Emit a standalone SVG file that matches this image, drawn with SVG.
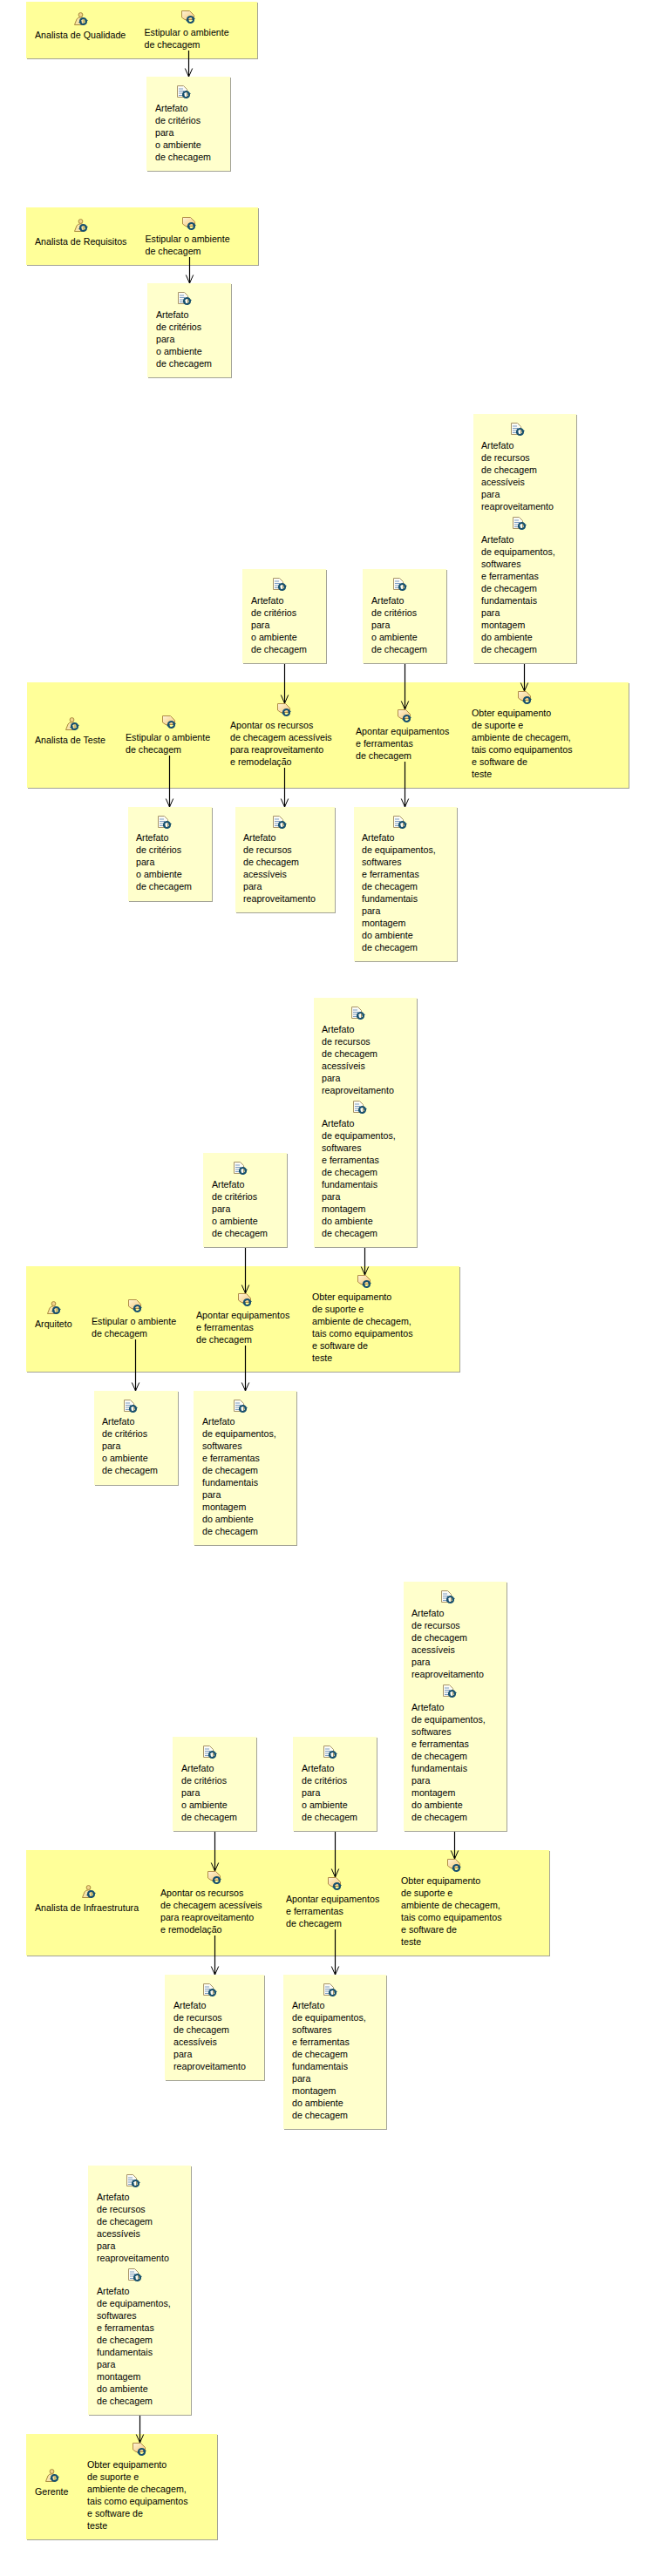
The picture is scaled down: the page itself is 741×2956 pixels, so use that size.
<svg xmlns="http://www.w3.org/2000/svg" width="741" height="2956" viewBox="0 0 741 2956">
<style>
text{font-family:"Liberation Sans",Arial,sans-serif;font-size:10.67px;fill:#000}
.pa{fill:#ffff99}.ar{fill:#ffffcc}.sh{fill:#a3a396}
.c{fill:none;stroke:#000;stroke-width:1.2;marker-end:url(#v)}
</style>
<defs>
<linearGradient id="tg" x1="0" y1="0" x2="1" y2="1"><stop offset="0" stop-color="#fff4d8"/><stop offset="1" stop-color="#f5c878"/></linearGradient>
<marker id="v" markerUnits="userSpaceOnUse" markerWidth="12" markerHeight="12" refX="10" refY="5" orient="auto" viewBox="0 0 12 10"><path d="M0.500 0.800L10 5L0.500 9.200" fill="none" stroke="#000" stroke-width="1"/></marker>
<g id="sync"><path d="M-3.500 0.500A3.600 3.600 0 0 1 3 -2M3.500 -0.500A3.600 3.600 0 0 1 -3 2" fill="none" stroke="#17506e" stroke-width="2"/><path d="M1.500 -4L5.500 -1L2 0.500ZM-1.500 4L-5.500 1L-2 -0.500Z" fill="#17506e"/></g>
<symbol id="ic-actor" width="17" height="16" viewBox="0 0 17 16"><circle cx="7.500" cy="3" r="2.400" fill="#f3d48c" stroke="#a98a3c"/><path d="M0.500 14.500L3 8Q4 5.800 7.500 5.800Q11 5.800 11 8V14.500Z" fill="#f8e4a8" stroke="#a98a3c"/><use href="#sync" x="10.500" y="10.500"/></symbol>
<symbol id="ic-task" width="17" height="16" viewBox="0 0 17 16"><path d="M0.500 0.500H9.500L14.500 5.500V10.500H4L0.500 8Z" fill="url(#tg)" stroke="#b08c48"/><use href="#sync" x="10.500" y="10.500"/></symbol>
<symbol id="ic-doc" width="17" height="16" viewBox="0 0 17 16"><path d="M0.500 0.500H7.500L11.500 4.500V13.500H0.500Z" fill="#fbfbf4" stroke="#a89468"/><path d="M2 4H7M2 6.500H8M2 9H6M2 11.500H5" stroke="#7d9cc4" fill="none"/><use href="#sync" x="10.500" y="10.500"/></symbol>
<g id="b96-108"><rect class="sh" x="1" y="1" width="96" height="108"/><rect class="ar" width="96" height="108"/></g>
<g id="b118-286"><rect class="sh" x="1" y="1" width="118" height="286"/><rect class="ar" width="118" height="286"/></g>
<g id="b118-177"><rect class="sh" x="1" y="1" width="118" height="177"/><rect class="ar" width="118" height="177"/></g>
<g id="b114-121"><rect class="sh" x="1" y="1" width="114" height="121"/><rect class="ar" width="114" height="121"/></g>
<text id="tcrit">Artefato<tspan x="0" dy="14">de critérios</tspan><tspan x="0" dy="14">para</tspan><tspan x="0" dy="14">o ambiente</tspan><tspan x="0" dy="14">de checagem</tspan></text>
<text id="trec">Artefato<tspan x="0" dy="14">de recursos</tspan><tspan x="0" dy="14">de checagem</tspan><tspan x="0" dy="14">acessíveis</tspan><tspan x="0" dy="14">para</tspan><tspan x="0" dy="14">reaproveitamento</tspan></text>
<text id="teq">Artefato<tspan x="0" dy="14">de equipamentos,</tspan><tspan x="0" dy="14">softwares</tspan><tspan x="0" dy="14">e ferramentas</tspan><tspan x="0" dy="14">de checagem</tspan><tspan x="0" dy="14">fundamentais</tspan><tspan x="0" dy="14">para</tspan><tspan x="0" dy="14">montagem</tspan><tspan x="0" dy="14">do ambiente</tspan><tspan x="0" dy="14">de checagem</tspan></text>
<text id="test">Estipular o ambiente<tspan x="0" dy="14">de checagem</tspan></text>
<text id="tare">Apontar os recursos<tspan x="0" dy="14">de checagem acessíveis</tspan><tspan x="0" dy="14">para reaproveitamento</tspan><tspan x="0" dy="14">e remodelação</tspan></text>
<text id="tapo">Apontar equipamentos<tspan x="0" dy="14">e ferramentas</tspan><tspan x="0" dy="14">de checagem</tspan></text>
<text id="tobt">Obter equipamento<tspan x="0" dy="14">de suporte e</tspan><tspan x="0" dy="14">ambiente de checagem,</tspan><tspan x="0" dy="14">tais como equipamentos</tspan><tspan x="0" dy="14">e software de</tspan><tspan x="0" dy="14">teste</tspan></text>
</defs>
<rect width="741" height="2956" fill="#fff"/>

<g id="lane-qualidade"><rect class="sh" x="31" y="3" width="265" height="65"/><rect class="pa" x="30" y="2" width="265" height="65"/></g>
<g id="role-qualidade"><use href="#ic-actor" x="85" y="14"/><text x="40" y="44">Analista de Qualidade</text></g>
<g id="task-q1"><use href="#ic-task" x="208" y="12"/><use href="#test" x="165.500" y="41"/></g>
<g id="art-q1"><use href="#b96-108" x="168" y="88"/><use href="#ic-doc" x="203" y="98"/><use href="#tcrit" x="178" y="128"/></g>

<g id="lane-requisitos"><rect class="sh" x="31" y="239" width="266" height="66"/><rect class="pa" x="30" y="238" width="266" height="66"/></g>
<g id="role-requisitos"><use href="#ic-actor" x="85" y="251"/><text x="40" y="281">Analista de Requisitos</text></g>
<g id="task-r1"><use href="#ic-task" x="209" y="249"/><use href="#test" x="166.500" y="278"/></g>
<g id="art-r1"><use href="#b96-108" x="169" y="325"/><use href="#ic-doc" x="204" y="335"/><use href="#tcrit" x="179" y="365"/></g>

<g id="art-t1"><use href="#b96-108" x="278" y="653"/><use href="#ic-doc" x="313" y="663"/><use href="#tcrit" x="288" y="693"/></g>
<g id="art-t2"><use href="#b96-108" x="416" y="653"/><use href="#ic-doc" x="451" y="663"/><use href="#tcrit" x="426" y="693"/></g>
<g id="art-t3"><use href="#b118-286" x="543" y="475"/><use href="#ic-doc" x="586" y="485"/><use href="#trec" x="552" y="515"/><use href="#ic-doc" x="588" y="593"/><use href="#teq" x="552" y="623"/></g>
<g id="lane-teste"><rect class="sh" x="32" y="784" width="690" height="121"/><rect class="pa" x="31" y="783" width="690" height="121"/></g>
<g id="role-teste"><use href="#ic-actor" x="75" y="823"/><text x="40" y="853">Analista de Teste</text></g>
<g id="task-t1"><use href="#ic-task" x="186" y="821"/><use href="#test" x="144" y="850"/></g>
<g id="task-t2"><use href="#ic-task" x="318" y="807"/><use href="#tare" x="264" y="836"/></g>
<g id="task-t3"><use href="#ic-task" x="456" y="814"/><use href="#tapo" x="408" y="843"/></g>
<g id="task-t4"><use href="#ic-task" x="594" y="793"/><use href="#tobt" x="541" y="822"/></g>
<g id="art-t4"><use href="#b96-108" x="147" y="926"/><use href="#ic-doc" x="181" y="936"/><use href="#tcrit" x="156" y="965"/></g>
<g id="art-t5"><use href="#b114-121" x="270" y="926"/><use href="#ic-doc" x="313" y="936"/><use href="#trec" x="279" y="965"/></g>
<g id="art-t6"><use href="#b118-177" x="406" y="926"/><use href="#ic-doc" x="451" y="936"/><use href="#teq" x="415" y="965"/></g>

<g id="art-a1"><use href="#b96-108" x="233" y="1323"/><use href="#ic-doc" x="268" y="1333"/><use href="#tcrit" x="243" y="1363"/></g>
<g id="art-a2"><use href="#b118-286" x="360" y="1145"/><use href="#ic-doc" x="403" y="1155"/><use href="#trec" x="369" y="1185"/><use href="#ic-doc" x="405" y="1263"/><use href="#teq" x="369" y="1293"/></g>
<g id="lane-arquiteto"><rect class="sh" x="31" y="1454" width="497" height="121"/><rect class="pa" x="30" y="1453" width="497" height="121"/></g>
<g id="role-arquiteto"><use href="#ic-actor" x="54" y="1493"/><text x="40" y="1523">Arquiteto</text></g>
<g id="task-a1"><use href="#ic-task" x="147" y="1491"/><use href="#test" x="105" y="1520"/></g>
<g id="task-a2"><use href="#ic-task" x="273" y="1484"/><use href="#tapo" x="225" y="1513"/></g>
<g id="task-a3"><use href="#ic-task" x="410" y="1463"/><use href="#tobt" x="358" y="1492"/></g>
<g id="art-a3"><use href="#b96-108" x="108" y="1596"/><use href="#ic-doc" x="142" y="1606"/><use href="#tcrit" x="117" y="1635"/></g>
<g id="art-a4"><use href="#b118-177" x="222" y="1596"/><use href="#ic-doc" x="268" y="1606"/><use href="#teq" x="232" y="1635"/></g>

<g id="art-i1"><use href="#b96-108" x="198" y="1993"/><use href="#ic-doc" x="233" y="2003"/><use href="#tcrit" x="208" y="2033"/></g>
<g id="art-i2"><use href="#b96-108" x="336" y="1993"/><use href="#ic-doc" x="371" y="2003"/><use href="#tcrit" x="346" y="2033"/></g>
<g id="art-i3"><use href="#b118-286" x="463" y="1815"/><use href="#ic-doc" x="506" y="1825"/><use href="#trec" x="472" y="1855"/><use href="#ic-doc" x="508" y="1933"/><use href="#teq" x="472" y="1963"/></g>
<g id="lane-infra"><rect class="sh" x="31" y="2124" width="600" height="121"/><rect class="pa" x="30" y="2123" width="600" height="121"/></g>
<g id="role-infra"><use href="#ic-actor" x="94" y="2163"/><text x="40" y="2193">Analista de Infraestrutura</text></g>
<g id="task-i1"><use href="#ic-task" x="238" y="2147"/><use href="#tare" x="184" y="2176"/></g>
<g id="task-i2"><use href="#ic-task" x="376" y="2154"/><use href="#tapo" x="328" y="2183"/></g>
<g id="task-i3"><use href="#ic-task" x="513" y="2133"/><use href="#tobt" x="460" y="2162"/></g>
<g id="art-i4"><use href="#b114-121" x="189" y="2266"/><use href="#ic-doc" x="233" y="2276"/><use href="#trec" x="199" y="2305"/></g>
<g id="art-i5"><use href="#b118-177" x="325" y="2266"/><use href="#ic-doc" x="371" y="2276"/><use href="#teq" x="335" y="2305"/></g>

<g id="art-g1"><use href="#b118-286" x="101" y="2485"/><use href="#ic-doc" x="145" y="2495"/><use href="#trec" x="111" y="2525"/><use href="#ic-doc" x="147" y="2603"/><use href="#teq" x="111" y="2633"/></g>
<g id="lane-gerente"><rect class="sh" x="31" y="2794" width="219" height="121"/><rect class="pa" x="30" y="2793" width="219" height="121"/></g>
<g id="role-gerente"><use href="#ic-actor" x="52" y="2833"/><text x="40" y="2863">Gerente</text></g>
<g id="task-g1"><use href="#ic-task" x="152" y="2803"/><use href="#tobt" x="100" y="2832"/></g>

<g id="connectors">
<path class="c" d="M216.500 58V88"/>
<path class="c" d="M217.500 295V325"/>
<path class="c" d="M326.500 762V807"/>
<path class="c" d="M464.500 762V814"/>
<path class="c" d="M601.500 762V793"/>
<path class="c" d="M194.500 867V926"/>
<path class="c" d="M326.500 881V926"/>
<path class="c" d="M464.500 874V926"/>
<path class="c" d="M281.500 1432V1484"/>
<path class="c" d="M418.500 1432V1463"/>
<path class="c" d="M155.500 1537V1596"/>
<path class="c" d="M281.500 1544V1596"/>
<path class="c" d="M246.500 2102V2147"/>
<path class="c" d="M384.500 2102V2154"/>
<path class="c" d="M521.500 2102V2133"/>
<path class="c" d="M246.500 2221V2266"/>
<path class="c" d="M384.500 2214V2266"/>
<path class="c" d="M160.500 2772V2803"/>
</g>
</svg>
